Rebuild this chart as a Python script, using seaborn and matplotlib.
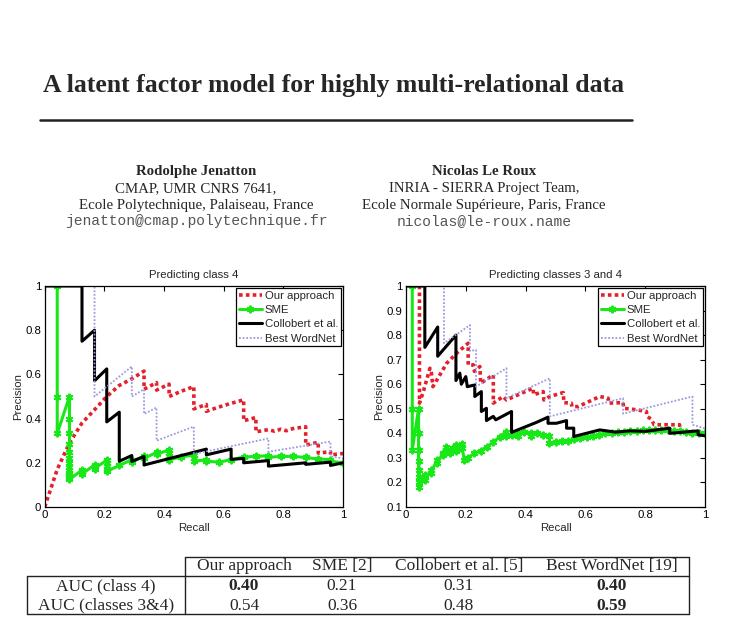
import matplotlib
matplotlib.use("Agg")
import matplotlib.pyplot as plt
from matplotlib.lines import Line2D
import seaborn as sns
import pandas as pd

#--------------------------------------------------------------------------------
# Data (precision / recall vertices)
#--------------------------------------------------------------------------------
# left panel: predicting class 4
our4_recall = [0, 0.042, 0.083, 0.125, 0.167, 0.208, 0.25, 0.292, 0.333, 0.333, 0.375, 0.375,
               0.417, 0.417, 0.458, 0.5, 0.5, 0.542, 0.542, 0.583, 0.625, 0.667, 0.667, 0.708,
               0.708, 0.75, 0.77, 0.792, 0.81, 0.833, 0.875, 0.875, 0.917, 0.917, 0.958, 0.958, 1.0]
our4_prec = [0, 0.17, 0.29, 0.38, 0.44, 0.5, 0.55, 0.58, 0.615, 0.533, 0.563, 0.529,
             0.556, 0.5, 0.524, 0.545, 0.444, 0.464, 0.433, 0.452, 0.469, 0.485, 0.39, 0.405,
             0.34, 0.35, 0.343, 0.352, 0.345, 0.355, 0.363, 0.28, 0.293, 0.244, 0.25, 0.236, 0.242]

sme4_recall = [0.042, 0.042, 0.042,
               0.083, 0.083, 0.083, 0.083, 0.083, 0.083, 0.083, 0.083, 0.083, 0.083, 0.083, 0.083, 0.083,
               0.125, 0.125, 0.125, 0.167, 0.167, 0.167, 0.208, 0.208, 0.208, 0.208, 0.208,
               0.25, 0.292, 0.292, 0.333, 0.333, 0.375, 0.375, 0.417, 0.417, 0.417, 0.417,
               0.458, 0.5, 0.5, 0.5, 0.542, 0.542, 0.583, 0.625, 0.667, 0.708, 0.75, 0.75,
               0.792, 0.833, 0.875, 0.917, 0.958, 0.958, 1.0]
sme4_prec = [1.0, 0.5, 0.333,
             0.5, 0.4, 0.333, 0.286, 0.25, 0.222, 0.2, 0.182, 0.167, 0.154, 0.143, 0.133, 0.125,
             0.167, 0.158, 0.15, 0.19, 0.182, 0.174, 0.212, 0.2, 0.185, 0.172, 0.161,
             0.188, 0.214, 0.205, 0.229, 0.22, 0.247, 0.238, 0.259, 0.245, 0.23, 0.214,
             0.226, 0.236, 0.222, 0.206, 0.214, 0.207, 0.203, 0.214, 0.226, 0.229, 0.232, 0.225,
             0.229, 0.229, 0.224, 0.217, 0.214, 0.207, 0.2]

col4_recall = [0, 0.125, 0.125, 0.167, 0.167, 0.208, 0.208, 0.25, 0.25, 0.292, 0.292, 0.333,
               0.333, 0.542, 0.542, 0.625, 0.625, 0.667, 0.667, 0.75, 0.75, 0.875, 0.875,
               0.958, 0.958, 1.0]
col4_prec = [1.0, 1.0, 0.75, 0.8, 0.571, 0.625, 0.385, 0.429, 0.207, 0.233, 0.206, 0.229,
             0.19, 0.262, 0.236, 0.262, 0.215, 0.22, 0.2, 0.21, 0.185, 0.2, 0.193,
             0.203, 0.188, 0.2]

wn4_recall = [0, 0.167, 0.167, 0.292, 0.292, 0.333, 0.333, 0.375, 0.375, 0.5, 0.5, 0.75, 0.75,
              0.958, 0.958, 1.0]
wn4_prec = [1.0, 1.0, 0.5, 0.636, 0.5, 0.533, 0.421, 0.45, 0.3, 0.364, 0.24, 0.31, 0.25,
            0.296, 0.229, 0.22]

# right panel: predicting classes 3 and 4
our34_recall = [0.021, 0.045, 0.045, 0.058, 0.08, 0.085, 0.09, 0.136, 0.169, 0.208, 0.208,
                0.225, 0.229, 0.247, 0.25, 0.292, 0.292, 0.325, 0.336, 0.425, 0.427, 0.459,
                0.461, 0.481, 0.526, 0.528, 0.553, 0.555, 0.576, 0.648, 0.676, 0.678, 0.726,
                0.728, 0.771, 0.804, 0.806, 0.82, 0.83, 0.882, 0.915, 0.917, 1.0]
our34_prec = [1.0, 1.0, 0.523, 0.57, 0.665, 0.645, 0.59, 0.685, 0.726, 0.767, 0.679,
              0.679, 0.652, 0.672, 0.604, 0.638, 0.523, 0.55, 0.536, 0.584, 0.557, 0.57,
              0.536, 0.55, 0.566, 0.525, 0.523, 0.509, 0.509, 0.55, 0.543, 0.523, 0.525,
              0.502, 0.496, 0.489, 0.469, 0.458, 0.435, 0.435, 0.435, 0.41, 0.40]

sme34_recall = [0.021, 0.021, 0.021,
                0.042, 0.042, 0.042, 0.042, 0.042, 0.042, 0.042, 0.042,
                0.063, 0.063, 0.083, 0.083, 0.104, 0.104, 0.125, 0.125, 0.135, 0.146, 0.146,
                0.156, 0.167, 0.167, 0.177, 0.188, 0.188, 0.195, 0.208, 0.229, 0.25, 0.271,
                0.292, 0.313, 0.333, 0.333, 0.354, 0.375, 0.375, 0.396, 0.417, 0.417, 0.438,
                0.458, 0.479, 0.479, 0.5, 0.521, 0.542, 0.563, 0.583, 0.604, 0.625, 0.646,
                0.667, 0.688, 0.708, 0.729, 0.75, 0.771, 0.792, 0.813, 0.833, 0.854, 0.875,
                0.896, 0.917, 0.938, 0.958, 0.979, 1.0]
sme34_prec = [1.0, 0.5, 0.333,
              0.5, 0.4, 0.333, 0.286, 0.25, 0.222, 0.2, 0.18,
              0.23, 0.21, 0.25, 0.24, 0.29, 0.28, 0.32, 0.31, 0.345, 0.33, 0.318,
              0.34, 0.352, 0.33, 0.34, 0.357, 0.34, 0.29, 0.30, 0.32, 0.33, 0.345,
              0.365, 0.385, 0.405, 0.39, 0.395, 0.40, 0.39, 0.405, 0.40, 0.39, 0.40,
              0.395, 0.39, 0.36, 0.365, 0.368, 0.37, 0.375, 0.38, 0.385, 0.39, 0.395,
              0.40, 0.402, 0.405, 0.407, 0.41, 0.41, 0.412, 0.415, 0.415, 0.413, 0.412,
              0.41, 0.408, 0.405, 0.403, 0.40, 0.40]

col34_recall = [0, 0.063, 0.063, 0.106, 0.106, 0.167, 0.167, 0.18, 0.185, 0.2, 0.205,
                0.23, 0.23, 0.252, 0.252, 0.269, 0.269, 0.292, 0.3, 0.353, 0.353, 0.437,
                0.475, 0.475, 0.503, 0.537, 0.537, 0.561, 0.561, 0.648, 0.7, 0.75, 0.8,
                0.882, 0.882, 0.977, 0.977, 1.0]
col34_prec = [1.0, 1.0, 0.75, 0.833, 0.714, 0.8, 0.615, 0.645, 0.6, 0.631, 0.59,
              0.597, 0.55, 0.57, 0.489, 0.502, 0.452, 0.469, 0.455, 0.489, 0.404, 0.445,
              0.466, 0.441, 0.441, 0.452, 0.421, 0.421, 0.387, 0.414, 0.405, 0.41, 0.408,
              0.421, 0.40, 0.41, 0.394, 0.39]

wn34_recall = [0, 0.127, 0.127, 0.214, 0.214, 0.234, 0.234, 0.336, 0.336, 0.481, 0.481,
               0.726, 0.726, 0.958, 0.958, 1.0]
wn34_prec = [1.0, 1.0, 0.767, 0.841, 0.735, 0.74, 0.59, 0.665, 0.543, 0.624, 0.469,
             0.543, 0.48, 0.55, 0.435, 0.42]

# AUC table
table_cols = ['Our approach', 'SME [2]', 'Collobert et al. [5]', 'Best WordNet [19]']
table_rows = ['AUC (class 4)', 'AUC (classes 3&4)']
auc_class4 = [0.40, 0.21, 0.31, 0.40]
auc_class34 = [0.54, 0.36, 0.48, 0.59]

#--------------------------------------------------------------------------------
# Style
#--------------------------------------------------------------------------------
sns.set_style("white")
plt.rcParams['font.family'] = ['Liberation Sans', 'DejaVu Sans']

styles = {
    'Our approach': dict(color='#e3202b', linestyle=(0, (1, 0.9)), linewidth=2.6),
    'SME': dict(color='#18e818', linestyle='-', linewidth=2.2, marker=(6, 2, 0),
                markersize=5.5, markeredgecolor='#18e818', markeredgewidth=1.4),
    'Collobert et al.': dict(color='black', linestyle='-', linewidth=2.2),
    'Best WordNet': dict(color='#9a9ae0', linestyle=(0, (1, 1)), linewidth=1.3),
}
fs_plot = 8.2

W, H = 739, 624
fig = plt.figure(figsize=(W / 100, H / 100), dpi=100)


def fx(px):
    return px / W


def fy(py):
    return 1 - py / H


def draw_panel(rect, curves, title, ylim, yticks):
    ax = fig.add_axes(rect)
    for name, rec, prec in curves:
        df = pd.DataFrame({'Recall': rec, 'Precision': prec})
        sns.lineplot(data=df, x='Recall', y='Precision', ax=ax, sort=False,
                     estimator=None, label=name, **styles[name])
    ax.set_xlim(0, 1)
    ax.set_ylim(*ylim)
    ax.set_xticks([0, 0.2, 0.4, 0.6, 0.8, 1])
    ax.set_xticklabels(['0', '0.2', '0.4', '0.6', '0.8', '1'])
    ax.set_yticks(yticks)
    ax.set_yticklabels(['%g' % t for t in yticks])
    ax.tick_params(direction='in', length=3.5, width=0.8, top=True, right=True,
                   labelsize=fs_plot, pad=2.5, colors='black')
    for sp in ax.spines.values():
        sp.set_color('black')
        sp.set_linewidth(0.9)
    ax.set_title(title, fontsize=fs_plot, pad=5.5)
    ax.set_xlabel('Recall', fontsize=fs_plot, labelpad=1.5)
    ax.set_ylabel('Precision', fontsize=fs_plot, labelpad=1.5)
    leg = ax.legend(loc='upper right', fontsize=fs_plot, frameon=True, fancybox=False,
                    edgecolor='black', framealpha=1, borderaxespad=0.15,
                    handlelength=2.0, handletextpad=0.3, labelspacing=0.38,
                    borderpad=0.25)
    leg.get_frame().set_linewidth(0.9)
    return ax


ax_l = draw_panel([fx(44.7), fy(507), fx(298.3), 221 / H],
                  [('Our approach', our4_recall, our4_prec),
                   ('SME', sme4_recall, sme4_prec),
                   ('Collobert et al.', col4_recall, col4_prec),
                   ('Best WordNet', wn4_recall, wn4_prec)],
                  'Predicting class 4', (0, 1), [0, 0.2, 0.4, 0.6, 0.8, 1])

ax_r = draw_panel([fx(406), fy(507), fx(299), 221 / H],
                  [('Our approach', our34_recall, our34_prec),
                   ('SME', sme34_recall, sme34_prec),
                   ('Collobert et al.', col34_recall, col34_prec),
                   ('Best WordNet', wn34_recall, wn34_prec)],
                  'Predicting classes 3 and 4', (0.1, 1),
                  [0.1, 0.2, 0.3, 0.4, 0.5, 0.6, 0.7, 0.8, 0.9, 1])

#--------------------------------------------------------------------------------
# Paper header
#--------------------------------------------------------------------------------
serif = ['Liberation Serif', 'DejaVu Serif']
mono = ['Liberation Mono', 'DejaVu Sans Mono']

fig.text(fx(333.5), fy(92), 'A latent factor model for highly multi-relational data',
         family=serif, weight='bold', fontsize=18.5, ha='center', va='baseline')
fig.add_artist(Line2D([fx(40), fx(632)], [fy(120), fy(120)], color='#222222', linewidth=1.8))

authors = [
    (196, ['Rodolphe Jenatton', 'CMAP, UMR CNRS 7641,', 'Ecole Polytechnique, Palaiseau, France',
           'jenatton@cmap.polytechnique.fr']),
    (484, ['Nicolas Le Roux', 'INRIA - SIERRA Project Team,', 'Ecole Normale Supérieure, Paris, France',
           'nicolas@le-roux.name']),
]
for xc, lines in authors:
    fig.text(fx(xc), fy(175), lines[0], family=serif, weight='bold', fontsize=10.7,
             ha='center', va='baseline')
    fig.text(fx(xc), fy(192), lines[1], family=serif, fontsize=10.7, ha='center', va='baseline')
    fig.text(fx(xc), fy(208.5), lines[2], family=serif, fontsize=10.7, ha='center', va='baseline')
    fig.text(fx(xc), fy(225), lines[3], family=mono, fontsize=10.5, color='#555555',
             ha='center', va='baseline')

#--------------------------------------------------------------------------------
# AUC table
#--------------------------------------------------------------------------------
col_x = [244, 342, 459, 612]
row_label_x = 106
fs_tab = 12.5
for cx, name in zip(col_x, table_cols):
    fig.text(fx(cx), fy(569.5), name, family=serif, fontsize=fs_tab, ha='center', va='baseline')
for ry, label, vals in [(590, table_rows[0], auc_class4), (609.5, table_rows[1], auc_class34)]:
    fig.text(fx(row_label_x), fy(ry), label, family=serif, fontsize=fs_tab, ha='center', va='baseline')
    best = max(vals)
    for cx, v in zip(col_x, vals):
        fig.text(fx(cx), fy(ry), '%.2f' % v, family=serif, fontsize=fs_tab, ha='center',
                 va='baseline', weight='bold' if v == best else 'normal')

tab_lines = [
    ([185, 689], [557, 557]),
    ([27, 689], [575.5, 575.5]),
    ([27, 689], [614, 614]),
    ([27, 27], [575.5, 614]),
    ([185, 185], [557, 614]),
    ([689, 689], [557, 614]),
]
for xs, ys in tab_lines:
    fig.add_artist(Line2D([fx(x) for x in xs], [fy(y) for y in ys], color='#222222', linewidth=1.0))

fig.savefig('out.png', dpi=100, facecolor='white')
